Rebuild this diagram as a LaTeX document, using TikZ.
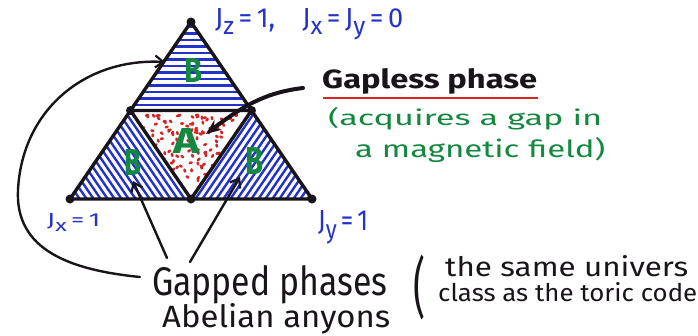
\documentclass[tikz,border=0pt]{standalone}
\usepackage{fontspec}
\setmainfont{Fira Sans}
\usetikzlibrary{arrows.meta}
\definecolor{penblue}{RGB}{35,50,200}
\definecolor{pengreen}{RGB}{20,135,65}
\definecolor{penred}{RGB}{215,35,35}
\definecolor{ink}{RGB}{25,20,25}
\newcommand\fitt[3]{\resizebox{#1}{#2}{#3}}
\newcommand\jsub[1]{\raisebox{-0.55ex}{\small #1}}
\begin{document}
\begin{tikzpicture}[x=1pt,y=-1pt,
  edge/.style={draw=ink, line width=3.4pt, line join=round},
  hatch/.style={penblue, line width=2.4pt},
  vdot/.style={circle, fill=ink, inner sep=0pt, minimum size=9pt},
  lbl/.style={inner sep=0pt, anchor=base west},
  letter/.style={inner sep=0pt, text=pengreen, font=\bfseries},
  conn/.style={draw=ink, line width=2.4pt, line cap=round},
  barb/.style={-{Straight Barb[length=8pt,width=12pt,line width=2.2pt]}},
]
\useasboundingbox (0,0) rectangle (698,335);
\fill[white] (0,0) rectangle (698,335);
% vertices
\coordinate (T) at (191,22);
\coordinate (L) at (70,199);
\coordinate (R) at (312,199);
\coordinate (ML) at (130.5,110.5);
\coordinate (MR) at (251.5,110.5);
\coordinate (MB) at (191,199);
% hatching top
\begin{scope}
  \clip (T) -- (ML) -- (MR) -- cycle;
  \foreach \y in {27,33.5,...,111} \draw[hatch] (120,\y) -- (262,\y);
\end{scope}
% hatching left
\begin{scope}
  \clip (ML) -- (L) -- (MB) -- cycle;
  \foreach \x in {-2,5,...,130} \draw[hatch] (\x,100) -- (\x+75.2,210);
\end{scope}
% hatching right
\begin{scope}
  \clip (MR) -- (MB) -- (R) -- cycle;
  \foreach \x in {256,263,...,390} \draw[hatch] (\x,100) -- (\x-75.2,210);
\end{scope}
% stipple
\begin{scope}
  \clip (ML) -- (MR) -- (MB) -- cycle;
  \pgfmathsetseed{11}
  \foreach \i in {1,...,190}{
    \pgfmathsetmacro\px{136+110*rnd}
    \pgfmathsetmacro\py{115+78*rnd}
    \pgfmathsetmacro\pa{180*rnd}
    \fill[penred, rotate around={\pa:(\px,\py)}] (\px,\py) ellipse (2.1pt and 1.4pt);
  }
\end{scope}
% edges
\draw[edge] (T) -- (L) -- (R) -- cycle;
\draw[edge] (ML) -- (MR) -- (MB) -- cycle;
\foreach \v in {T,L,R,ML,MR,MB} \node[vdot] (d\v) at (\v) {};
% letters
\node[letter] (bTop) at (193,70) {\fitt{18pt}{24pt}{B}};
\node[letter] (aMid) at (187,141) {\fitt{26pt}{25pt}{A}};
\node[letter] (bLeft) at (133,162) {\fitt{17pt}{26pt}{B}};
\node[letter] (bRight) at (254,161) {\fitt{18pt}{27pt}{B}};
% labels
\node[lbl, text=penblue] (jz) at (215,27) {\fitt{188pt}{19pt}{J\jsub{z}\,=\,1,\quad J\jsub{x}\,=\,J\jsub{y}\,=\,0}};
\node[lbl, text=penblue] (jx) at (47,226) {\fitt{53pt}{13pt}{J\jsub{x}\,=\,1}};
\node[lbl, text=penblue] (jy) at (318,230) {\fitt{50pt}{20pt}{J\jsub{y}\,=\,1}};
\node[lbl, text=ink, font=\bfseries] (gapless) at (322,88) {\fitt{215pt}{20pt}{Gapless phase}};
\node[lbl, text=pengreen] (acq) at (328,125) {\fitt{274pt}{18pt}{(acquires a gap in}};
\node[lbl, text=pengreen] (mag) at (355,157) {\fitt{250pt}{20pt}{a magnetic field)}};
\node[lbl, text=ink] (gapped) at (152,295) {\fitt{235pt}{30pt}{Gapped phases}};
\node[lbl, text=ink] (abel) at (162,327) {\fitt{228pt}{24pt}{Abelian anyons}};
\node[inner sep=0pt, anchor=north west, text=ink] (paren) at (413,255) {\resizebox*{12pt}{65pt}{(}};
\node[lbl, text=ink] (same) at (445,276) {\fitt{243pt}{21pt}{the same univers}};
\node[lbl, text=ink] (toric) at (438,301) {\fitt{259pt}{19pt}{class as the toric code}};
% underline
\draw[penred, line width=2.2pt] (323,98) -- (538,98);
% connectors
\coordinate (gs1) at (140,277);
\coordinate (gt1) at (165,62);
\draw[conn, barb] (gs1) .. controls (70,270) and (15,250) .. (18,190)
   .. controls (22,110) and (85,58) .. (gt1);
\coordinate (gs2) at (167,258);
\coordinate (gt2) at (133,181);
\draw[conn, barb] (gs2) -- (gt2);
\coordinate (gs3) at (190,262);
\coordinate (gt3) at (240,177);
\draw[conn, barb] (gs3) -- (gt3);
\coordinate (ls) at (303,88);
\coordinate (lt) at (206,134);
\draw[conn, line width=4pt, -{Stealth[length=15pt,width=12pt]}] (ls) .. controls (270,92) and (248,102) .. (lt);
\end{tikzpicture}
\end{document}
